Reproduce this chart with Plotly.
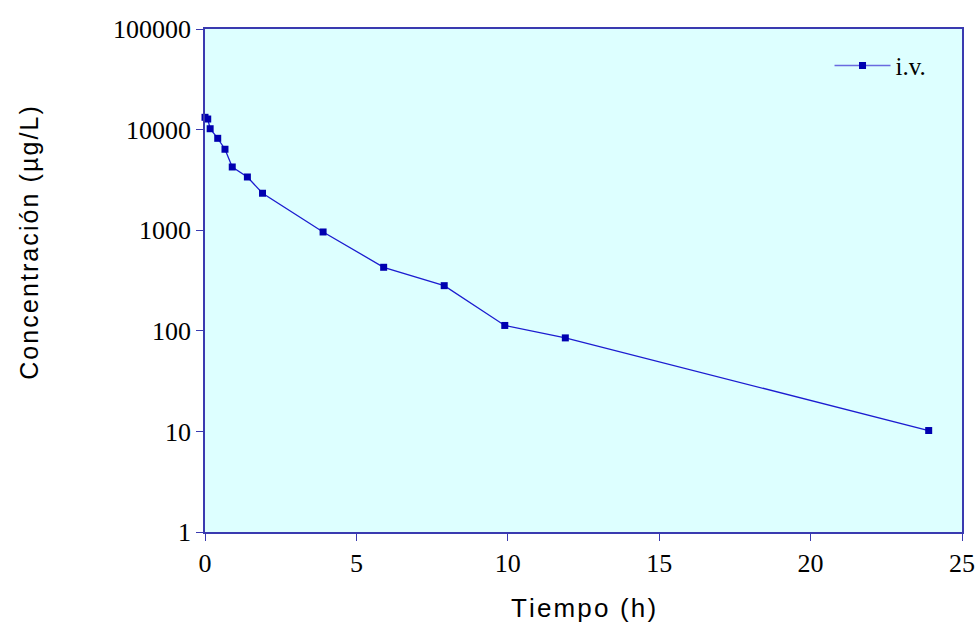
import plotly.graph_objects as go

tiempo = [0.0, 0.09, 0.17, 0.42, 0.66, 0.9, 1.4, 1.9, 3.9, 5.9, 7.9, 9.9, 11.9, 23.9]
conc = [13250, 12740, 10200, 8190, 6380, 4250, 3380, 2330, 960, 428, 281, 113, 85, 10.2]
serie = "i.v."
yticks = [1, 10, 100, 1000, 10000, 100000]
xticks = [0, 5, 10, 15, 20, 25]
xtitle = "Tiempo (h)"
ytitle = "Concentración (µg/L)"

axis_col = "#3A3AB0"
hs = "\u200a"

def spaced(s):
    return hs.join(list(s))

fig = go.Figure()
fig.add_trace(go.Scatter(
    x=tiempo, y=conc, mode="lines+markers", name=serie, showlegend=False,
    line=dict(color="#1C1CD0", width=1.3),
    marker=dict(symbol="square", size=7, color="#0000B0"),
    cliponaxis=False,
))
fig.add_trace(go.Scatter(
    x=[None], y=[None], mode="lines+markers", name=serie, showlegend=True,
    line=dict(color="#6A6AE0", width=1.6),
    marker=dict(symbol="square", size=7, color="#0000B0"),
))

fig.add_annotation(
    text=spaced(ytitle), xref="paper", yref="paper",
    x=-0.2325, y=0.575, xanchor="center", yanchor="middle",
    textangle=-90, showarrow=False,
    font=dict(family="Liberation Sans Narrow, Liberation Sans", size=25, color="black"),
)

fig.update_layout(
    width=976, height=626,
    margin=dict(l=205, r=14, t=29, b=94),
    paper_bgcolor="white",
    plot_bgcolor="#DDFFFF",
    showlegend=True,
    legend=dict(x=0.825, y=0.927, xanchor="left", yanchor="middle",
                bgcolor="rgba(0,0,0,0)", itemwidth=56,
                font=dict(family="Liberation Serif", size=25, color="black")),
    xaxis=dict(range=[0, 25], tickvals=xticks, ticks="outside", ticklen=7,
               tickcolor=axis_col, showline=True, linecolor=axis_col, linewidth=1.5,
               mirror=True, showgrid=False, zeroline=False, automargin=False,
               tickfont=dict(family="Liberation Serif", size=26, color="black"),
               title=dict(text=spaced(xtitle), standoff=22,
                          font=dict(family="Liberation Sans Narrow, Liberation Sans", size=26, color="black"))),
    yaxis=dict(type="log", range=[0, 5], tickvals=yticks,
               ticktext=[str(v) for v in yticks], ticks="outside", ticklen=7,
               tickcolor=axis_col, showline=True, linecolor=axis_col, linewidth=1.5,
               mirror=True, showgrid=False, zeroline=False, automargin=False,
               tickfont=dict(family="Liberation Serif", size=26, color="black")),
)

fig.write_html("out.html")
